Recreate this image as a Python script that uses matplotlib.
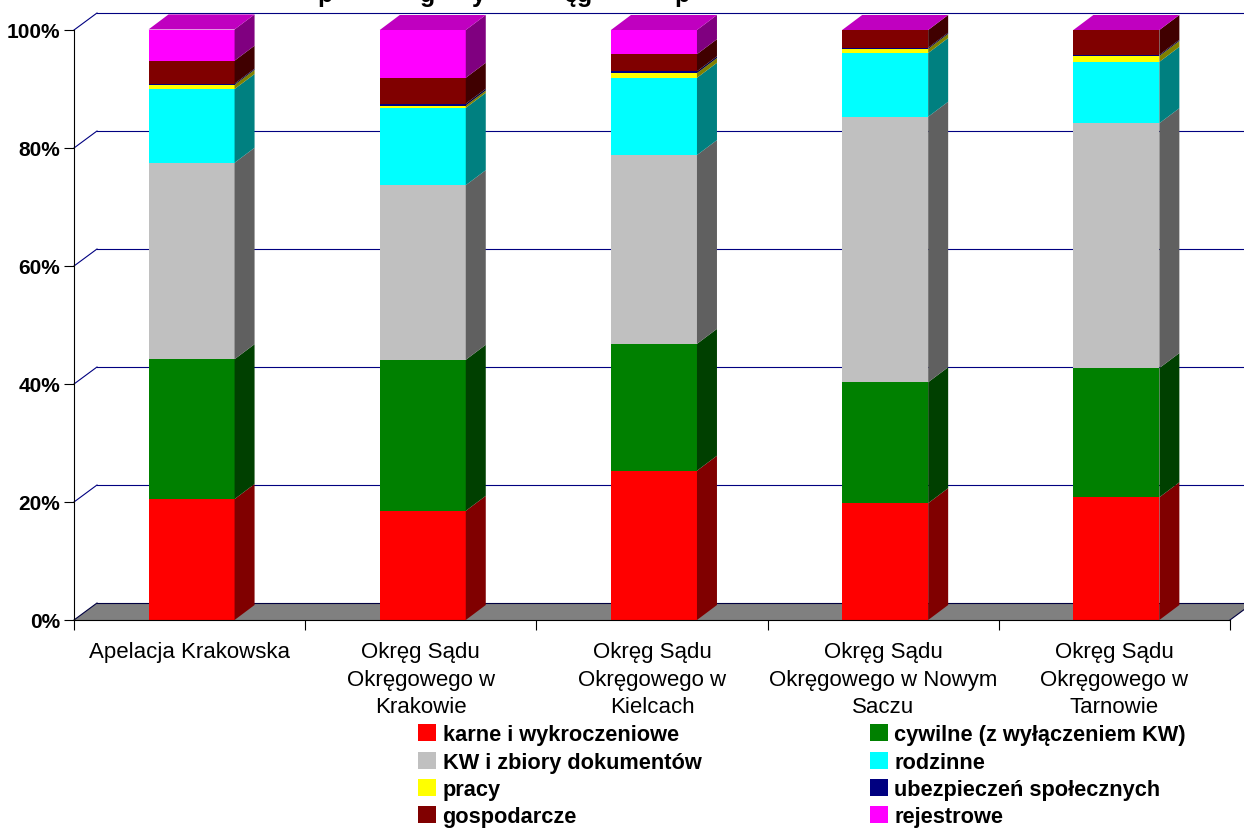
import matplotlib
matplotlib.use("Agg")
import matplotlib.pyplot as plt
from matplotlib.patches import Rectangle
from matplotlib.ticker import FuncFormatter

plt.rcParams['font.family'] = ['Liberation Sans', 'DejaVu Sans']

kategorie = ["Apelacja Krakowska",
             "Okręg Sądu\nOkręgowego w\nKrakowie",
             "Okręg Sądu\nOkręgowego w\nKielcach",
             "Okręg Sądu\nOkręgowego w Nowym\nSaczu",
             "Okręg Sądu\nOkręgowego w\nTarnowie"]

karne = [20.5, 18.5, 25.3, 19.8, 20.8]
cywilne = [23.7, 25.6, 21.5, 20.5, 21.9]
kw = [33.3, 29.6, 32.0, 45.0, 41.5]
rodzinne = [12.5, 13.1, 13.1, 10.8, 10.4]
pracy = [0.7, 0.4, 0.8, 0.7, 1.0]
ubezpieczen = [0.2, 0.3, 0.3, 0.2, 0.2]
gospodarcze = [3.9, 4.4, 2.9, 3.0, 4.2]
rejestrowe = [5.3, 8.1, 4.1, 0.0, 0.0]

serie = [karne, cywilne, kw, rodzinne, pracy, ubezpieczen, gospodarcze, rejestrowe]
nazwy = ["karne i wykroczeniowe", "cywilne (z wyłączeniem KW)",
         "KW i zbiory dokumentów", "rodzinne",
         "pracy", "ubezpieczeń społecznych",
         "gospodarcze", "rejestrowe"]
kolory = ["#ff0000", "#008000", "#c0c0c0", "#00ffff",
          "#ffff00", "#000080", "#800000", "#ff00ff"]
boki = ["#800000", "#004000", "#606060", "#008080",
        "#808000", "#000040", "#400000", "#800080"]
kolor_gory = "#c000c0"

# tytul jest uciety, widac tylko dolne czesci tych liter
litery_tytulu = ["p", "g", "y", "ę", "g", "p"]
x_tytulu = [325, 428, 479, 571, 585, 682]

W, H = 1244, 829
fig = plt.figure(figsize=(W / 100, H / 100), dpi=100, facecolor='white')
ax = fig.add_axes([74 / W, (H - 621) / H, 1156 / W, 590 / H])
ax.set_xlim(0, 5)
ax.set_ylim(0, 100)

# przesuniecia 3D w jednostkach danych
px_x = 5 / 1156
px_y = 100 / 590
sciana_dx, sciana_dy = 23 * px_x, 17 * px_y
bok_dx, bok_dy = 20 * px_x, 15 * px_y
szer = 86 * px_x
koniec = 5 + 40 * px_x

# podloga
ax.fill([0, sciana_dx, koniec, 5 + sciana_dx, 5],
        [0, sciana_dy, sciana_dy, sciana_dy, 0],
        color="#808080", lw=0, zorder=1, clip_on=False)
ax.plot([0, sciana_dx], [0, sciana_dy], color="#000040", lw=0.8, zorder=1.5, clip_on=False)
ax.plot([sciana_dx, koniec], [sciana_dy, sciana_dy], color="#000040", lw=0.8, zorder=1.5, clip_on=False)
ax.plot([5, 5 + sciana_dx], [0, sciana_dy], color="#000040", lw=0.8, zorder=1.5, clip_on=False)

# linie siatki na scianie
for v in [20, 40, 60, 80, 100]:
    ax.plot([0, sciana_dx], [v, v + sciana_dy], color="#000080", lw=0.8, zorder=1, clip_on=False)
    ax.plot([sciana_dx, koniec], [v + sciana_dy, v + sciana_dy],
            color="#000080", lw=0.8, zorder=1, clip_on=False)

for i in range(len(kategorie)):
    x = i + 0.5 + 0.0085
    dol = 0
    for s, kolor, bok in zip(serie, kolory, boki):
        ax.bar(x, s[i], szer, bottom=dol, color=kolor, lw=0, zorder=3)
        prawa = x + szer / 2
        ax.fill([prawa, prawa + bok_dx, prawa + bok_dx, prawa],
                [dol, dol + bok_dy, dol + s[i] + bok_dy, dol + s[i]],
                color=bok, lw=0, zorder=3, clip_on=False)
        dol += s[i]
    lewa = x - szer / 2
    ax.fill([lewa, lewa + bok_dx, lewa + szer + bok_dx, lewa + szer],
            [dol, dol + bok_dy, dol + bok_dy, dol],
            color=kolor_gory, lw=0, zorder=3, clip_on=False)

ax.patch.set_visible(False)
for nazwa in ['top', 'right']:
    ax.spines[nazwa].set_visible(False)
ax.spines['left'].set_bounds(0, 100)
ax.spines['left'].set_zorder(5)
ax.spines['bottom'].set_zorder(5)

ax.set_yticks([0, 20, 40, 60, 80, 100])
ax.yaxis.set_major_formatter(FuncFormatter(lambda v, _: f"{v:.0f}%"))
ax.tick_params(axis='y', length=7, width=0.8, pad=3, labelsize=15)
for t in ax.get_yticklabels():
    t.set_fontweight('bold')

ax.set_xticks(range(6))
ax.set_xticklabels([])
ax.tick_params(axis='x', length=7, width=0.8)
ax.set_xticks([i + 0.5 for i in range(5)], minor=True)
ax.set_xticklabels(kategorie, minor=True, fontsize=16, linespacing=1.42, va='top')
ax.tick_params(axis='x', which='minor', length=0, pad=15)

# legenda
kol_x = [418, 870]
wiersz_y = [733.5, 761, 788, 815.5]
for n, (nazwa, kolor) in enumerate(zip(nazwy, kolory)):
    lx = kol_x[n % 2]
    ly = wiersz_y[n // 2]
    fig.add_artist(Rectangle((lx / W, (H - ly - 8.5) / H), 18 / W, 17 / H,
                             transform=fig.transFigure, color=kolor, lw=0))
    fig.text((lx + 24.5) / W, (H - ly) / H, nazwa, fontsize=15.7, fontweight='bold',
             va='center_baseline', ha='left')

for litera, lx in zip(litery_tytulu, x_tytulu):
    fig.text(lx / W, (H - 2) / H, litera, fontsize=18, fontweight='bold',
             va='baseline', ha='center')

fig.savefig("out.png", dpi=100, facecolor='white')
plt.close(fig)
